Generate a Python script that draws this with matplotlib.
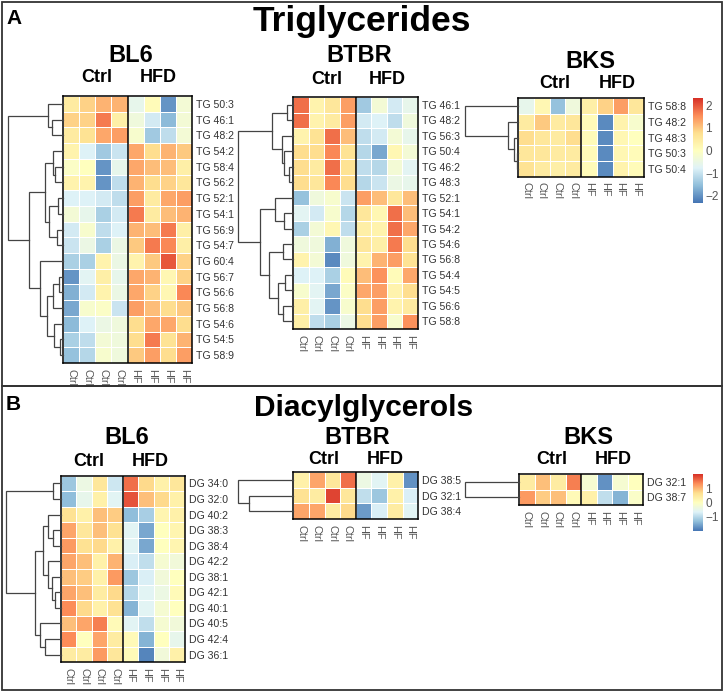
import numpy as np
import matplotlib
matplotlib.use("Agg")
import matplotlib.pyplot as plt
from matplotlib.colors import LinearSegmentedColormap
from matplotlib.patches import Rectangle

plt.rcParams['font.family'] = ['Liberation Sans', 'DejaVu Sans']

W, H = 725, 693
fig = plt.figure(figsize=(W / 100, H / 100), dpi=100)

cmap = LinearSegmentedColormap.from_list(
    'rdylbu_r', ['#4575B4', '#91BFDB', '#E0F3F8', '#FFFFBF', '#FEE090', '#FC8D59', '#D73027'])

col_labels = ['Ctrl'] * 4 + ['HF'] * 4

# ---------------- Triglycerides ----------------
bl6_tg_rows = ['TG 50:3', 'TG 46:1', 'TG 48:2', 'TG 54:2', 'TG 58:4', 'TG 56:2', 'TG 52:1',
               'TG 54:1', 'TG 56:9', 'TG 54:7', 'TG 60:4', 'TG 56:7', 'TG 56:6', 'TG 56:8',
               'TG 54:6', 'TG 54:5', 'TG 58:9']
bl6_tg_values = [
    [0.5, 0.9, 1.2, 1.2, -0.6, 0.1, -2.0, -0.3],
    [0.9, 0.9, 1.7, 0.4, -0.4, -0.9, -1.6, -0.3],
    [0.5, 0.7, 1.3, 1.4, -0.2, -1.4, -1.1, -0.3],
    [0.3, -0.8, -1.4, -1.0, 1.3, 0.8, 1.2, 1.0],
    [-0.1, 0.0, -2.0, -0.6, 1.3, 1.1, 1.1, 0.4],
    [0.3, 0.3, -2.0, -1.1, 1.2, 0.8, 0.9, 0.6],
    [-0.8, -0.8, -0.9, -1.1, 1.4, 0.5, 1.3, 1.4],
    [-0.3, -0.6, -1.3, -0.9, 1.7, 0.5, 1.1, 1.2],
    [-0.9, -0.2, -1.1, -0.8, 1.2, 1.1, 1.7, 0.4],
    [-1.0, -0.5, -1.3, -0.5, 1.0, 1.7, 1.6, 0.4],
    [-1.3, -1.3, 0.3, -0.5, 0.3, 1.0, 2.0, 0.9],
    [-2.0, -0.7, 0.4, -0.6, 1.3, 1.2, 0.2, 0.9],
    [-1.7, -0.9, 0.3, -0.5, 1.3, 0.9, 0.2, 1.6],
    [-1.8, -0.2, -0.1, -1.0, 1.4, 1.1, 0.8, 1.0],
    [-1.6, -0.8, -0.5, -0.4, 0.8, 1.3, 1.3, 0.8],
    [-1.3, -1.1, -0.3, -0.4, 0.8, 1.7, 0.7, 1.2],
    [-1.5, -1.2, -0.2, -0.4, 1.0, 1.4, 0.8, 1.4],
]
# nested (left, right, height) merges, leaves = row index
bl6_tg_tree = ((0, (1, 2, 2.07), 2.68),
               (((3, (4, 5, 1.46), 1.77), ((6, 7, 0.85), (8, 9, 1.04), 2.5), 3.29),
                (10, (((11, 12, 0.73), 13, 1.88), (14, (15, 16, 0.55), 1.59), 3.0), 4.2),
                6.16),
               10.0)

btbr_tg_rows = ['TG 46:1', 'TG 48:2', 'TG 56:3', 'TG 50:4', 'TG 46:2', 'TG 48:3', 'TG 52:1',
                'TG 54:1', 'TG 54:2', 'TG 54:6', 'TG 56:8', 'TG 54:4', 'TG 54:5', 'TG 56:6',
                'TG 58:8']
btbr_tg_values = [
    [1.8, 0.3, 0.6, 1.4, -1.4, -0.3, -0.9, -0.6],
    [1.8, 0.3, 0.5, 1.4, -0.9, -0.8, -1.1, -0.4],
    [0.3, 0.7, 1.8, 1.1, -1.1, -0.9, -0.3, -0.6],
    [0.8, 0.8, 1.6, 0.7, -1.2, -1.8, 0.2, -0.3],
    [0.8, 0.5, 1.8, 0.7, -1.1, -1.2, -0.3, -0.7],
    [0.8, 0.6, 1.6, 0.8, -1.2, -1.0, -0.5, -0.6],
    [-1.5, -0.4, -0.2, -1.0, 1.4, 1.1, 0.6, 1.1],
    [-0.7, -0.9, -0.2, -1.2, 0.6, 0.2, 1.8, 1.1],
    [-1.3, -0.3, 0.2, -1.1, 0.4, 0.3, 1.8, 1.3],
    [-0.4, -0.4, -1.7, -0.4, 0.6, 0.4, 1.7, 0.8],
    [0.3, -0.3, -2.1, -0.4, 0.3, 1.2, 1.4, 0.7],
    [-0.8, -0.8, -1.3, 0.1, 1.1, 1.5, 0.1, 1.3],
    [-0.2, -0.7, -1.8, -0.1, 1.3, 1.4, 0.3, 0.8],
    [0.4, -0.7, -2.0, -0.2, 0.8, 1.4, 0.3, 0.5],
    [0.4, -1.1, -1.3, -0.5, 0.8, 1.4, -0.2, 1.5],
]
btbr_tg_tree = (((0, 1, 1.2), (2, (3, (4, 5, 0.78), 1.64), 2.12), 3.94),
                ((6, (7, 8, 1.7), 3.33),
                 ((9, 10, 1.94), ((11, 12, 1.5), (13, 14, 1.8), 2.85), 4.36),
                 6.06),
                10.0)

bks_tg_rows = ['TG 58:8', 'TG 48:2', 'TG 48:3', 'TG 50:3', 'TG 50:4']
bks_tg_values = [
    [-0.6, 0.2, -1.5, -0.4, 0.4, 0.9, 1.4, 0.6],
    [0.5, 1.0, 0.5, 0.6, 0.1, -2.1, 0.3, -0.2],
    [0.8, 0.6, 0.5, 0.8, 0.1, -2.1, 0.2, 0.0],
    [0.6, 0.6, 0.5, 0.5, 0.1, -2.1, 0.2, 0.1],
    [0.7, 0.5, 0.4, 0.5, 0.1, -2.1, 0.3, 0.1],
]
bks_tg_tree = (0, (1, (2, (3, 4, 0.3), 0.81), 1.88), 10.0)

tg_range = 2.33
tg_ticks = [2, 1, 0, -1, -2]

# ---------------- Diacylglycerols ----------------
bl6_dg_rows = ['DG 34:0', 'DG 32:0', 'DG 40:2', 'DG 38:3', 'DG 38:4', 'DG 42:2', 'DG 38:1',
               'DG 42:1', 'DG 40:1', 'DG 40:5', 'DG 42:4', 'DG 36:1']
bl6_dg_values = [
    [-1.2, -0.4, 0.5, -0.8, 1.5, 0.7, 0.3, 0.5],
    [-1.3, -0.5, 0.3, -0.6, 1.7, 0.9, 0.7, 0.3],
    [0.6, 0.3, 0.9, 0.8, -1.3, -1.1, 0.2, 0.3],
    [1.1, 0.5, 0.9, 0.6, -0.6, -1.5, 0.0, 0.2],
    [1.2, 0.6, 0.7, 0.3, -0.6, -1.5, 0.0, 0.2],
    [1.1, 0.9, 0.3, 1.0, -0.7, -0.9, -0.2, -0.3],
    [0.9, 0.8, 0.3, 1.2, -1.2, -0.7, -0.3, 0.0],
    [1.1, 0.9, 0.4, 0.7, -1.0, -0.6, -0.4, 0.1],
    [1.3, 0.7, 0.3, 0.6, -1.4, -0.6, -0.2, 0.0],
    [0.9, 1.1, 1.4, 0.1, -0.6, -0.9, -0.2, -0.3],
    [1.3, 0.0, 1.1, 0.4, 0.1, -1.4, 0.0, -0.5],
    [0.4, 0.4, 1.2, 0.5, 0.1, -1.8, -0.3, 0.3],
]
bl6_dg_tree = ((0, 1, 1.33),
               (((2, (3, 4, 1.33), 2.24), (5, (6, (7, 8, 1.03), 1.64), 2.36), 3.27),
                (9, (10, 11, 2.85), 3.76),
                4.67),
               10.0)

btbr_dg_rows = ['DG 38:5', 'DG 32:1', 'DG 38:4']
btbr_dg_values = [
    [0.3, 1.1, 0.5, 1.5, -0.4, -0.6, 0.3, -1.7],
    [0.6, 0.4, 1.8, 0.5, -0.9, -1.2, 0.3, -0.7],
    [1.1, 1.1, 0.4, 0.7, -1.6, -0.7, 0.4, -0.6],
]
btbr_dg_tree = (0, (1, 2, 8.0), 10.0)

bks_dg_rows = ['DG 32:1', 'DG 38:7']
bks_dg_values = [
    [0.4, 0.9, 0.4, 1.4, -0.2, -1.7, -0.2, 0.0],
    [1.2, 0.8, 0.9, 0.1, 0.3, -0.9, -1.4, -0.1],
]
bks_dg_tree = (0, 1, 10.0)

dg_range = 1.95
dg_ticks = [1, 0, -1]


# ---------------- helpers ----------------
def ax_px(x0, y0, x1, y1):
    return fig.add_axes([x0 / W, 1 - y1 / H, (x1 - x0) / W, (y1 - y0) / H])


def txt(x, y, s, size, weight='normal', ha='center', color='black'):
    fig.text(x / W, 1 - y / H, s, ha=ha, va='center', fontsize=size,
             fontweight=weight, color=color)


def draw_heatmap(box, values, rows, vr):
    x0, y0, x1, y1 = box
    ax = ax_px(x0, y0, x1, y1)
    data = np.array(values)
    n, m = data.shape
    ax.pcolormesh(np.arange(m + 1), np.arange(n + 1), data, cmap=cmap, vmin=-vr, vmax=vr,
                  edgecolors='white', linewidth=0.6)
    ax.set_xlim(0, m)
    ax.set_ylim(n, 0)
    ax.axvline(4, color='black', lw=1.1)
    for s in ax.spines.values():
        s.set_color('black')
        s.set_linewidth(1.1)
    ax.yaxis.tick_right()
    ax.set_yticks(np.arange(n) + 0.5)
    ax.set_yticklabels(rows, fontsize=7.6, color='#333333')
    ax.set_xticks(np.arange(m) + 0.5)
    ax.set_xticklabels(col_labels, rotation=270, fontsize=7.8, color='#555555')
    ax.tick_params(length=0, pad=3)
    ax.tick_params(axis='x', pad=4)
    return ax


def draw_tree(box, tree, n):
    x0, y0, x1, y1 = box
    ax = ax_px(x0, y0, x1, y1)
    ax.set_xlim(10, 0)
    ax.set_ylim(n, 0)
    ax.axis('off')

    def rec(node):
        if isinstance(node, int):
            return node + 0.5, 0.0
        a, b, h = node
        pa, ha = rec(a)
        pb, hb = rec(b)
        ax.plot([ha, h, h, hb], [pa, pa, pb, pb], color='#444444', lw=0.9,
                clip_on=False, solid_joinstyle='miter')
        return (pa + pb) / 2, h

    rec(tree)


def draw_cbar(box, vr, ticks):
    x0, y0, x1, y1 = box
    ax = ax_px(x0, y0, x1, y1)
    grad = np.linspace(vr, -vr, 256).reshape(-1, 1)
    ax.imshow(grad, aspect='auto', cmap=cmap, vmin=-vr, vmax=vr, extent=[0, 1, -vr, vr])
    ax.set_xticks([])
    ax.yaxis.tick_right()
    ax.set_yticks(ticks)
    ax.set_yticklabels([str(t).replace('-', '\u2212') for t in ticks])
    ax.tick_params(length=0, pad=2, labelsize=8.5, labelcolor='#555555')
    for s in ax.spines.values():
        s.set_visible(False)


# ---------------- panels ----------------
fig.add_artist(Rectangle((2 / W, 1 - 386 / H), 720 / W, 384 / H, transform=fig.transFigure,
                         fill=False, edgecolor='#333333', lw=1.3))
fig.add_artist(Rectangle((2 / W, 1 - 690 / H), 720 / W, 304 / H, transform=fig.transFigure,
                         fill=False, edgecolor='#333333', lw=1.3))

txt(6, 18, 'A', 15, 'bold', ha='left')
txt(6, 405, 'B', 15, 'bold', ha='left')
txt(362, 22, 'Triglycerides', 25.5, 'bold')
txt(364, 408, 'Diacylglycerols', 21.5, 'bold')

# Triglycerides
hm = (63, 96, 192, 363)
draw_heatmap(hm, bl6_tg_values, bl6_tg_rows, tg_range)
draw_tree((8.3, hm[1], hm[0], hm[3]), bl6_tg_tree, len(bl6_tg_rows))
txt(131, 55, 'BL6', 17, 'bold')
txt(97, 77, 'Ctrl', 13, 'bold')
txt(158, 77, 'HFD', 13, 'bold')

hm = (293.3, 97.3, 418, 329)
draw_heatmap(hm, btbr_tg_values, btbr_tg_rows, tg_range)
draw_tree((238.3, hm[1], hm[0], hm[3]), btbr_tg_tree, len(btbr_tg_rows))
txt(359, 55, 'BTBR', 17, 'bold')
txt(327, 80, 'Ctrl', 13, 'bold')
txt(387, 80, 'HFD', 13, 'bold')

hm = (518.3, 98.3, 644, 176.7)
draw_heatmap(hm, bks_tg_values, bks_tg_rows, tg_range)
draw_tree((465, hm[1], hm[0], hm[3]), bks_tg_tree, len(bks_tg_rows))
txt(590, 61, 'BKS', 17, 'bold')
txt(555, 83, 'Ctrl', 13, 'bold')
txt(617, 83, 'HFD', 13, 'bold')
draw_cbar((692.7, 98, 702.7, 203), tg_range, tg_ticks)

# Diacylglycerols
hm = (60.7, 475.7, 185, 662.3)
draw_heatmap(hm, bl6_dg_values, bl6_dg_rows, dg_range)
draw_tree((5.7, hm[1], hm[0], hm[3]), bl6_dg_tree, len(bl6_dg_rows))
txt(127, 437, 'BL6', 17, 'bold')
txt(89, 461, 'Ctrl', 13, 'bold')
txt(150, 461, 'HFD', 13, 'bold')

hm = (293.3, 472.3, 418.3, 519)
draw_heatmap(hm, btbr_dg_values, btbr_dg_rows, dg_range)
draw_tree((238.3, hm[1], hm[0], hm[3]), btbr_dg_tree, len(btbr_dg_rows))
txt(357, 437, 'BTBR', 17, 'bold')
txt(324, 460, 'Ctrl', 13, 'bold')
txt(385, 460, 'HFD', 13, 'bold')

hm = (519, 474, 643.3, 505.3)
draw_heatmap(hm, bks_dg_values, bks_dg_rows, dg_range)
draw_tree((465, hm[1], hm[0], hm[3]), bks_dg_tree, len(bks_dg_rows))
txt(588, 438, 'BKS', 17, 'bold')
txt(552, 460, 'Ctrl', 13, 'bold')
txt(613, 460, 'HFD', 13, 'bold')
draw_cbar((692.7, 474.3, 702.7, 530.7), dg_range, dg_ticks)

fig.savefig('out.png', dpi=100)
